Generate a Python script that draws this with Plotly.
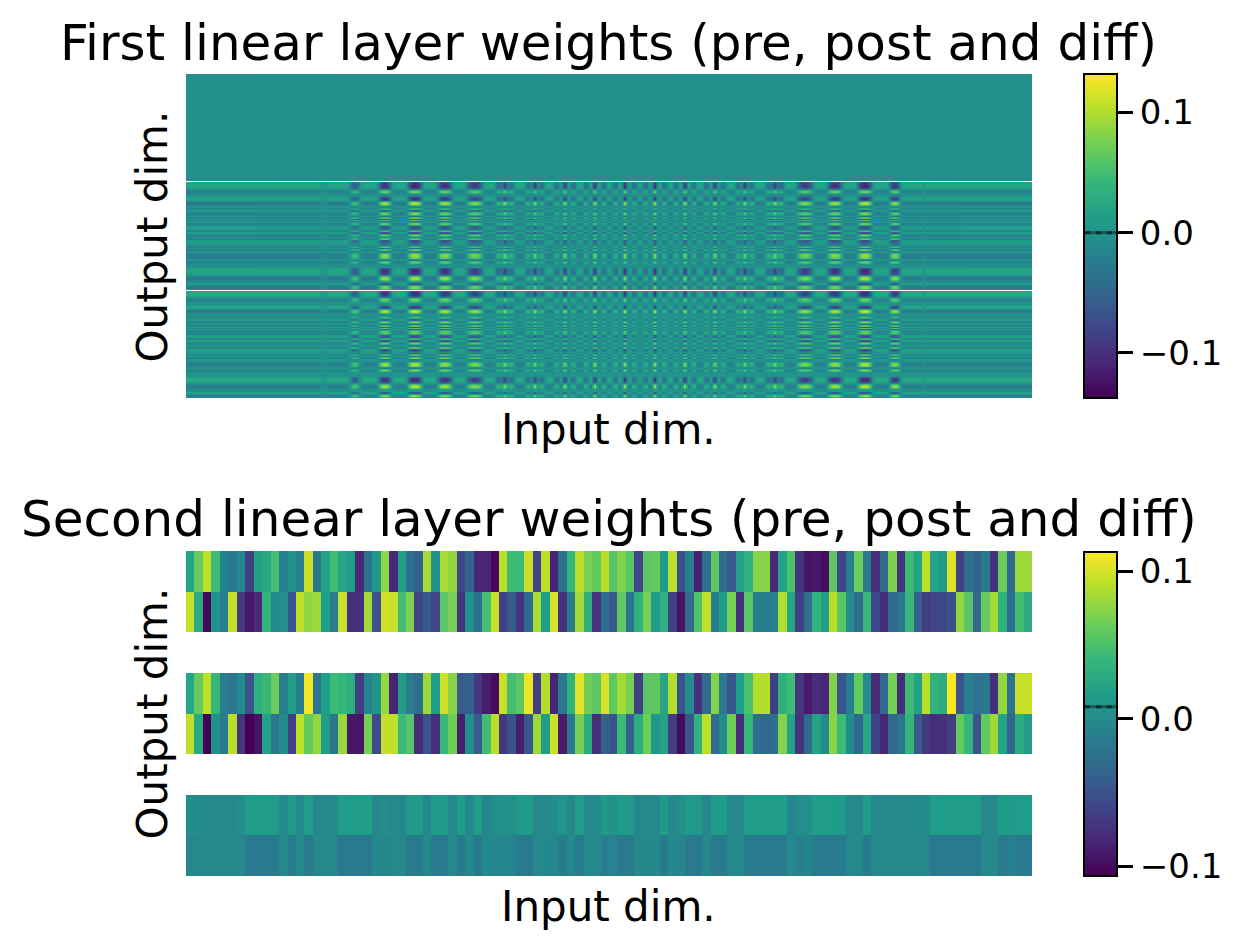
import numpy as np
import plotly.graph_objects as go

W, H = 1244, 949

# ---------- second linear layer (values in thousandths, one per input dim) ----------
second_pre_0 = [22,61,92,44,-9,-16,-3,-64,19,26,48,-11,4,-11,96,-18,19,46,24,17,-80,-22,11,77,-82,17,-27,-38,85,4,85,77,-58,-36,-84,-84,-102,92,44,44,96,-62,92,-84,-25,39,90,68,61,90,55,70,55,-60,57,61,11,92,-51,-11,-86,-25,59,-29,-44,19,35,74,74,-80,19,50,-73,-95,-93,-99,57,-60,-11,63,-14,-77,-29,70,-75,44,22,92,22,15,103,-64,-27,-38,-16,-73,63,-33,81,81]
second_pre_1 = [96,30,-102,8,-14,94,-69,-93,-80,37,-3,2,-47,94,77,81,17,-16,96,-77,-77,83,-51,99,96,46,70,-62,-44,-60,57,68,-73,6,-27,48,96,-64,-44,-73,-31,85,17,101,-77,-14,83,33,-73,-27,-44,59,-22,35,68,13,35,-64,-95,-31,52,94,-11,17,68,-77,57,-11,-16,-9,88,24,-64,-25,37,15,90,57,2,-29,41,-58,-80,-29,-18,41,-40,-66,-62,-60,-51,77,55,-33,61,83,37,-27,46,30]
second_diff_0 = [2,0,0,-3,-3,-3,2,15,15,15,15,0,11,-3,15,-3,-3,-3,15,15,15,15,-3,2,-3,-3,13,13,-3,13,13,-3,15,-3,15,-5,2,4,4,13,13,-3,-3,0,8,-3,15,-3,-3,11,4,13,13,-3,0,-3,13,-3,2,11,11,-3,13,13,-3,-3,15,15,15,15,15,-5,2,4,15,15,15,13,-3,-3,13,-3,-3,-3,-3,0,-1,-1,15,15,15,15,15,15,-3,-3,15,11,15,15]
second_diff_1 = [-3,-3,-3,-3,-3,-3,-3,-16,-16,-16,-16,-3,-16,-2,-16,-3,-3,-3,-16,-16,-16,-16,-3,-5,-3,-3,-16,-16,-3,-16,-16,-3,-16,-3,-16,-2,-5,-6,-6,-16,-16,-3,-3,-4,-14,-2,-16,-3,-3,-13,-6,-16,-16,-3,-4,-3,-15,-3,-5,-16,-16,-2,-16,-16,-3,-3,-16,-16,-16,-16,-16,-3,-10,-6,-16,-16,-16,-14,-3,-3,-16,-3,-3,-3,-3,-3,-3,-3,-16,-16,-16,-16,-16,-16,-2,-2,-16,-8,-16,-16]
SECOND_MIN, SECOND_MAX, SECOND_MEAN = -0.1064, 0.114, 0.0083
SECOND_AXIS = [-0.1058, 0.1129]

# ---------- first linear layer (coarse reading) ----------
# how strongly each of the 100 output dims follows the stripe pattern
first_row_loading = [-.7,-.9,-1,-1,-.9,-.7,-.2,.4,.7,.7,.4,-.05,-.1,-.3,-.7,-.9,-.7,.3,.8,1,.9,.5,0,-.2,.3,.4,-.5,-.4,.5,.7,.3,-.4,.5,.6,-.6,.6,-.5,.3,.6,.7,.2,-.5,-.7,-.5,.2,.5,-.6,-.7,.3,.7,.4,-.2,.5,.6,-.6,-.7,-.5,-.2,-.3,.3,.6,-.4,.5,.7,-.3,-.1,.5,.8,.9,.9,.7,0,-.3,.5,.7,.5,.1,-.1,.1,-.05,-.6,-.9,-1,-1,-.9,-.7,-.2,.5,.8,1,.9,.6,.2,.1,-.6,-.7,.2,.7,.8,.4]
# stripe profile across the input dims (thousandths), 2 px wide bins, 30 px per stripe
first_margin_left = [-24]*67 + [-14,-8,-8,-14] + [-24]*6
stripe_01 = [-24,-24,-24,-20,-5,20,45,60,45,20,-5,-20,-24,-24,-24]
stripe_02 = [-24,-24,-22,-10,25,70,95,100,95,70,25,-10,-22,-24,-24]
stripe_03 = [-24,-24,-20,5,50,90,105,110,105,90,50,5,-20,-24,-24]
stripe_04 = [-24,-24,-20,5,45,80,95,100,95,80,45,5,-20,-24,-24]
stripe_05 = [-24,-24,-15,15,55,70,85,90,85,70,55,15,-15,-24,-24]
stripe_06 = [-24,-22,-5,30,42,25,50,80,50,25,42,30,-5,-22,-24]
stripe_07 = [-24,-22,-2,32,35,8,35,78,35,8,35,32,-2,-22,-24]
stripe_08 = [-24,-12,22,34,12,-12,32,82,32,-12,12,34,22,-12,-24]
stripe_09 = [-24,-3,30,30,-2,-20,30,88,30,-20,-2,30,30,-3,-24]
stripe_10 = [-20,8,32,28,-10,-20,35,90,35,-20,-10,28,32,8,-20]
stripe_11 = [-20,8,32,28,-10,-20,35,90,35,-20,-10,28,32,8,-20]
stripe_12 = [-24,-3,30,30,-2,-20,30,88,30,-20,-2,30,30,-3,-24]
stripe_13 = [-24,-12,22,34,12,-12,32,82,32,-12,12,34,22,-12,-24]
stripe_14 = [-24,-22,-2,32,35,8,35,78,35,8,35,32,-2,-22,-24]
stripe_15 = [-24,-22,-5,30,42,25,50,80,50,25,42,30,-5,-22,-24]
stripe_16 = [-24,-24,-15,15,55,70,85,90,85,70,55,15,-15,-24,-24]
stripe_17 = [-24,-24,-20,5,45,80,95,100,95,80,45,5,-20,-24,-24]
stripe_18 = [-24,-24,-20,5,50,90,105,110,105,90,50,5,-20,-24,-24]
stripe_19 = [-24,-24,-24,-20,0,50,85,90,85,50,0,-20,-24,-24,-24]
first_margin_right = [-24]*6 + [-12,-12] + [-24]*53
# pre-training weights average out close to zero: local means (thousandths)
first_pre_means = [[-3,-2,-3,-3,-2,-3,-3,-2,-3,-3,-2,-3],
                   [-2,-3,-3,-2,-3,-2,-3,-3,-2,-3,-3,-2],
                   [-3,-3,-2,-3,-3,-3,-2,-3,-3,-2,-3,-3],
                   [-3,-2,-3,-3,-2,-3,-3,-3,-2,-3,-2,-3]]
FIRST_MIN, FIRST_MAX, FIRST_MEAN = -0.1375, 0.132, 0.0
FIRST_AXIS = [-0.1367, 0.1312]

TITLE_1 = "First linear layer weights (pre, post and diff)"
TITLE_2 = "Second linear layer weights (pre, post and diff)"
X_LABEL, Y_LABEL = "Input dim.", "Output dim."

# ---------- assemble the images ----------
profile = np.array(first_margin_left + stripe_01 + stripe_02 + stripe_03 + stripe_04 + stripe_05
                   + stripe_06 + stripe_07 + stripe_08 + stripe_09 + stripe_10 + stripe_11
                   + stripe_12 + stripe_13 + stripe_14 + stripe_15 + stripe_16 + stripe_17
                   + stripe_18 + stripe_19 + first_margin_right) / 1000
loading = np.array(first_row_loading)
assert profile.size == 423 and loading.size == 100
first_diff = np.outer(loading, profile)
pre_means = np.array(first_pre_means) / 1000
rep_r = np.repeat(pre_means, 25, axis=0)
first_pre = np.repeat(rep_r, [36] * 3 + [35] * 9, axis=1)
first_post = first_pre + first_diff
gap_1 = np.full((1, 423), np.nan)
first_z = np.vstack([first_pre, gap_1, first_post, gap_1, first_diff])

p0, p1, d0, d1 = [np.array(a) / 1000 for a in (second_pre_0, second_pre_1, second_diff_0, second_diff_1)]
assert all(a.size == 100 for a in (p0, p1, d0, d1))
gap_2 = np.full(100, np.nan)
second_z = np.vstack([p0, p1, gap_2, p0 + d0, p1 + d1, gap_2, d0, d1])

# ---------- figure ----------
def dom_x(a, b):
    return [a / W, b / W]
def dom_y(top, bottom):
    return [1 - bottom / H, 1 - top / H]

fig = go.Figure()
fig.add_trace(go.Heatmap(z=first_z, colorscale="Viridis", zmin=FIRST_MIN, zmax=FIRST_MAX,
                         showscale=False, hoverongaps=False, xaxis="x", yaxis="y"))
fig.add_trace(go.Heatmap(z=second_z, colorscale="Viridis", zmin=SECOND_MIN, zmax=SECOND_MAX,
                         showscale=False, hoverongaps=False, xaxis="x2", yaxis="y2"))
# colour bars as small axes so that the mean marker can sit on top of them
for (lo, hi, mean, xa, ya) in [(FIRST_MIN, FIRST_MAX, FIRST_MEAN, "x3", "y3"),
                               (SECOND_MIN, SECOND_MAX, SECOND_MEAN, "x4", "y4")]:
    ramp = np.linspace(lo, hi, 256)
    fig.add_trace(go.Heatmap(z=ramp[:, None], y=ramp, x=[0], colorscale="Viridis", zmin=lo, zmax=hi,
                             showscale=False, xaxis=xa, yaxis=ya, hoverinfo="skip"))
    fig.add_trace(go.Scatter(x=[-0.5, 0.5], y=[mean, mean], mode="lines", xaxis=xa, yaxis=ya,
                             line=dict(color="rgba(0,0,0,0.4)", width=3),
                             showlegend=False, hoverinfo="skip"))
    fig.add_trace(go.Scatter(x=[-0.5, 0.5], y=[mean, mean], mode="lines", xaxis=xa, yaxis=ya,
                             line=dict(color="rgba(0,0,0,0.5)", width=3, dash="5px 6px"),
                             showlegend=False, hoverinfo="skip"))

hidden = dict(visible=False, showgrid=False, zeroline=False)
TICK_FONT = dict(family="DejaVu Sans", size=34, color="black")
def bar_y(rng, top, bottom, anchor):
    return dict(domain=dom_y(top, bottom), range=rng, anchor=anchor, side="right",
                tickvals=[-0.1, 0.0, 0.1], tickformat=".1f", ticks="outside", ticklen=15,
                tickwidth=2.5, tickcolor="black", showline=True, linewidth=2, linecolor="black",
                mirror=True, showgrid=False, zeroline=False, tickfont=TICK_FONT)
def bar_x(anchor):
    return dict(domain=dom_x(1085, 1116), range=[-0.5, 0.5], anchor=anchor, showticklabels=False,
                ticks="", showline=True, linewidth=2, linecolor="black", mirror=True,
                showgrid=False, zeroline=False)

def label(text, x, y, size, angle=0):
    return dict(text=text, x=x / W, y=1 - y / H, xref="paper", yref="paper", showarrow=False,
                xanchor="center", yanchor="middle", textangle=angle,
                font=dict(family="DejaVu Sans", size=size, color="black"))

fig.update_layout(
    width=W, height=H, margin=dict(l=0, r=0, t=0, b=0, autoexpand=False), autosize=False,
    paper_bgcolor="white", plot_bgcolor="white", showlegend=False,
    xaxis=dict(domain=dom_x(186, 1032), range=[-0.5, 422.5], anchor="y", **hidden),
    yaxis=dict(domain=dom_y(74, 398), range=[301.5, -0.5], anchor="x", **hidden),
    xaxis2=dict(domain=dom_x(186, 1032), range=[-0.5, 99.5], anchor="y2", **hidden),
    yaxis2=dict(domain=dom_y(551, 876), range=[7.5, -0.5], anchor="x2", **hidden),
    xaxis3=bar_x("y3"), yaxis3=bar_y(FIRST_AXIS, 75, 397, "x3"),
    xaxis4=bar_x("y4"), yaxis4=bar_y(SECOND_AXIS, 552.5, 875, "x4"),
    annotations=[
        label(TITLE_1, 608.5, 43, 50), label(TITLE_2, 608.5, 518.5, 50),
        label(X_LABEL, 608.5, 429, 42), label(X_LABEL, 608.5, 906, 42),
        label(Y_LABEL, 152, 236.5, 42, -90), label(Y_LABEL, 152, 713.5, 42, -90),
    ],
)
fig.write_html("out.html", config={"displayModeBar": False},
               post_script="document.body.style.margin='0';")
